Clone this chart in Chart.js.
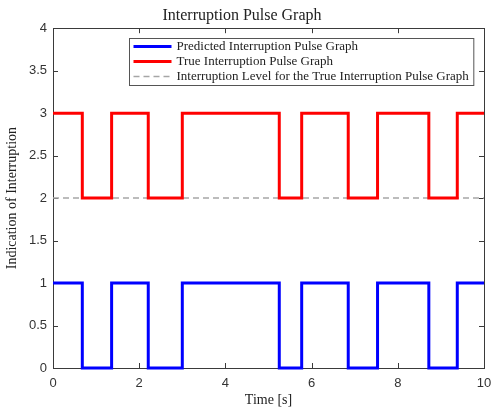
<html><head><meta charset="utf-8">
<script src="https://cdn.jsdelivr.net/npm/chart.js@4.4.0/dist/chart.umd.min.js"></script>
<style>
 body { margin:0; background:#fff; }
 #wrap { position:relative; width:492px; height:409px; }
</style>
</head>
<body>
<div id="wrap"><canvas id="myChart" width="492" height="409"></canvas></div>
<script>
// switch instants of the pulse graphs (s)
var switchTimes    = [0, 0.68, 1.36, 2.21, 3.00, 5.25, 5.77, 6.85, 7.53, 8.72, 9.38, 10];
var predictedLevel = [1, 0,    1,    0,    1,    0,    1,    0,    1,    0,    1,    1];
var trueLevel      = [3, 2,    3,    2,    3,    2,    3,    2,    3,    2,    3,    3];
var levelX = [0, 10];
var levelY = [2, 2];
var xTicks = [0, 2, 4, 6, 8, 10];
var yTicks = [0, 0.5, 1, 1.5, 2, 2.5, 3, 3.5, 4];

function pts(xs, ys) {
  return xs.map(function (x, i) { return {x: x, y: ys[i]}; });
}

var axisCol = '#3a3a3a';
var serif = "'Liberation Serif', 'DejaVu Serif', serif";
var sans = "'Liberation Sans', Arial, sans-serif";

// box round the axes and inward ticks under the lines, legend on top
var matlabLook = {
  id: 'matlabLook',
  beforeDatasetsDraw: function (chart) {
    var c = chart.ctx, a = chart.chartArea;
    var xs = chart.scales.x, ys = chart.scales.y;
    c.save();
    c.strokeStyle = axisCol;
    c.lineWidth = 1;
    c.strokeRect(Math.round(a.left) + 0.5, Math.round(a.top) + 0.5,
                 Math.round(a.right - a.left), Math.round(a.bottom - a.top));
    c.beginPath();
    xTicks.forEach(function (t) {
      var px = Math.round(xs.getPixelForValue(t)) + 0.5;
      c.moveTo(px, a.bottom); c.lineTo(px, a.bottom - 5);
      c.moveTo(px, a.top); c.lineTo(px, a.top + 5);
    });
    yTicks.forEach(function (t) {
      var py = Math.round(ys.getPixelForValue(t)) + 0.5;
      c.moveTo(a.left, py); c.lineTo(a.left + 5, py);
      c.moveTo(a.right, py); c.lineTo(a.right - 5, py);
    });
    c.stroke();
    c.restore();
  },
  afterDatasetsDraw: function (chart) {
    var c = chart.ctx, a = chart.chartArea;
    c.save();
    c.font = '13px ' + serif;
    var ds = chart.data.datasets;
    var tw = 0;
    ds.forEach(function (d) { tw = Math.max(tw, c.measureText(d.label).width); });
    var w = tw + 52, h = 47;
    var lx = Math.round(a.right - 11 - w) + 0.5, ly = Math.round(a.top + 10) + 0.5;
    c.fillStyle = '#fff';
    c.fillRect(lx, ly, w, h);
    c.strokeStyle = '#555';
    c.lineWidth = 1;
    c.strokeRect(lx, ly, w, h);
    ds.forEach(function (d, i) {
      var y = ly + 8 + i * 15;
      c.beginPath();
      c.strokeStyle = d.borderColor;
      c.lineWidth = d.borderWidth;
      c.setLineDash(d.borderDash || []);
      c.moveTo(lx + 4, y); c.lineTo(lx + 42, y);
      c.stroke();
      c.setLineDash([]);
      c.fillStyle = '#222';
      c.textBaseline = 'middle';
      c.fillText(d.label, lx + 47, y);
    });
    c.restore();
  }
};

var ctx = document.getElementById('myChart');
var myChart = new Chart(ctx, {
  type: 'line',
  data: {
    datasets: [{
      label: 'Predicted Interruption Pulse Graph',
      data: pts(switchTimes, predictedLevel),
      borderColor: '#0000ff',
      borderWidth: 3,
      stepped: 'before',
      pointRadius: 0,
      clip: 4,
      fill: false
    }, {
      label: 'True Interruption Pulse Graph',
      data: pts(switchTimes, trueLevel),
      borderColor: '#ff0000',
      borderWidth: 3,
      stepped: 'before',
      pointRadius: 0,
      clip: 4,
      fill: false
    }, {
      label: 'Interruption Level for the True Interruption Pulse Graph',
      data: pts(levelX, levelY),
      borderColor: '#a6a6a6',
      borderWidth: 1.5,
      borderDash: [6, 4],
      pointRadius: 0,
      fill: false
    }]
  },
  options: {
    responsive: false,
    animation: false,
    layout: { padding: { left: 0, right: 8, top: 0, bottom: 0 } },
    plugins: {
      legend: { display: false },
      tooltip: { enabled: false },
      title: {
        display: true,
        text: 'Interruption Pulse Graph',
        color: '#222',
        font: { family: serif, size: 16, weight: 'normal' },
        padding: { top: 6, bottom: 3 }
      }
    },
    scales: {
      x: {
        type: 'linear',
        min: 0, max: 10,
        afterFit: function (s) { s.height = 41; s.paddingRight = 0; s.paddingLeft = 0; },
        grid: { display: false, drawTicks: false },
        border: { display: false },
        ticks: { stepSize: 2, color: '#333', padding: 8, maxRotation: 0,
                 font: { family: sans, size: 13 } },
        title: { display: true, text: 'Time [s]', color: '#222', padding: 0,
                 font: { family: serif, size: 14 } }
      },
      y: {
        type: 'linear',
        min: 0, max: 4,
        afterFit: function (s) { s.width = 53; },
        grid: { display: false, drawTicks: false },
        border: { display: false },
        ticks: { stepSize: 0.5, color: '#333', padding: 6,
                 font: { family: sans, size: 13 },
                 callback: function (v) { return String(v); } },
        title: { display: true, text: 'Indication of Interruption', color: '#222', padding: 4,
                 font: { family: serif, size: 14 } }
      }
    }
  },
  plugins: [matlabLook]
});
</script>
</body></html>
